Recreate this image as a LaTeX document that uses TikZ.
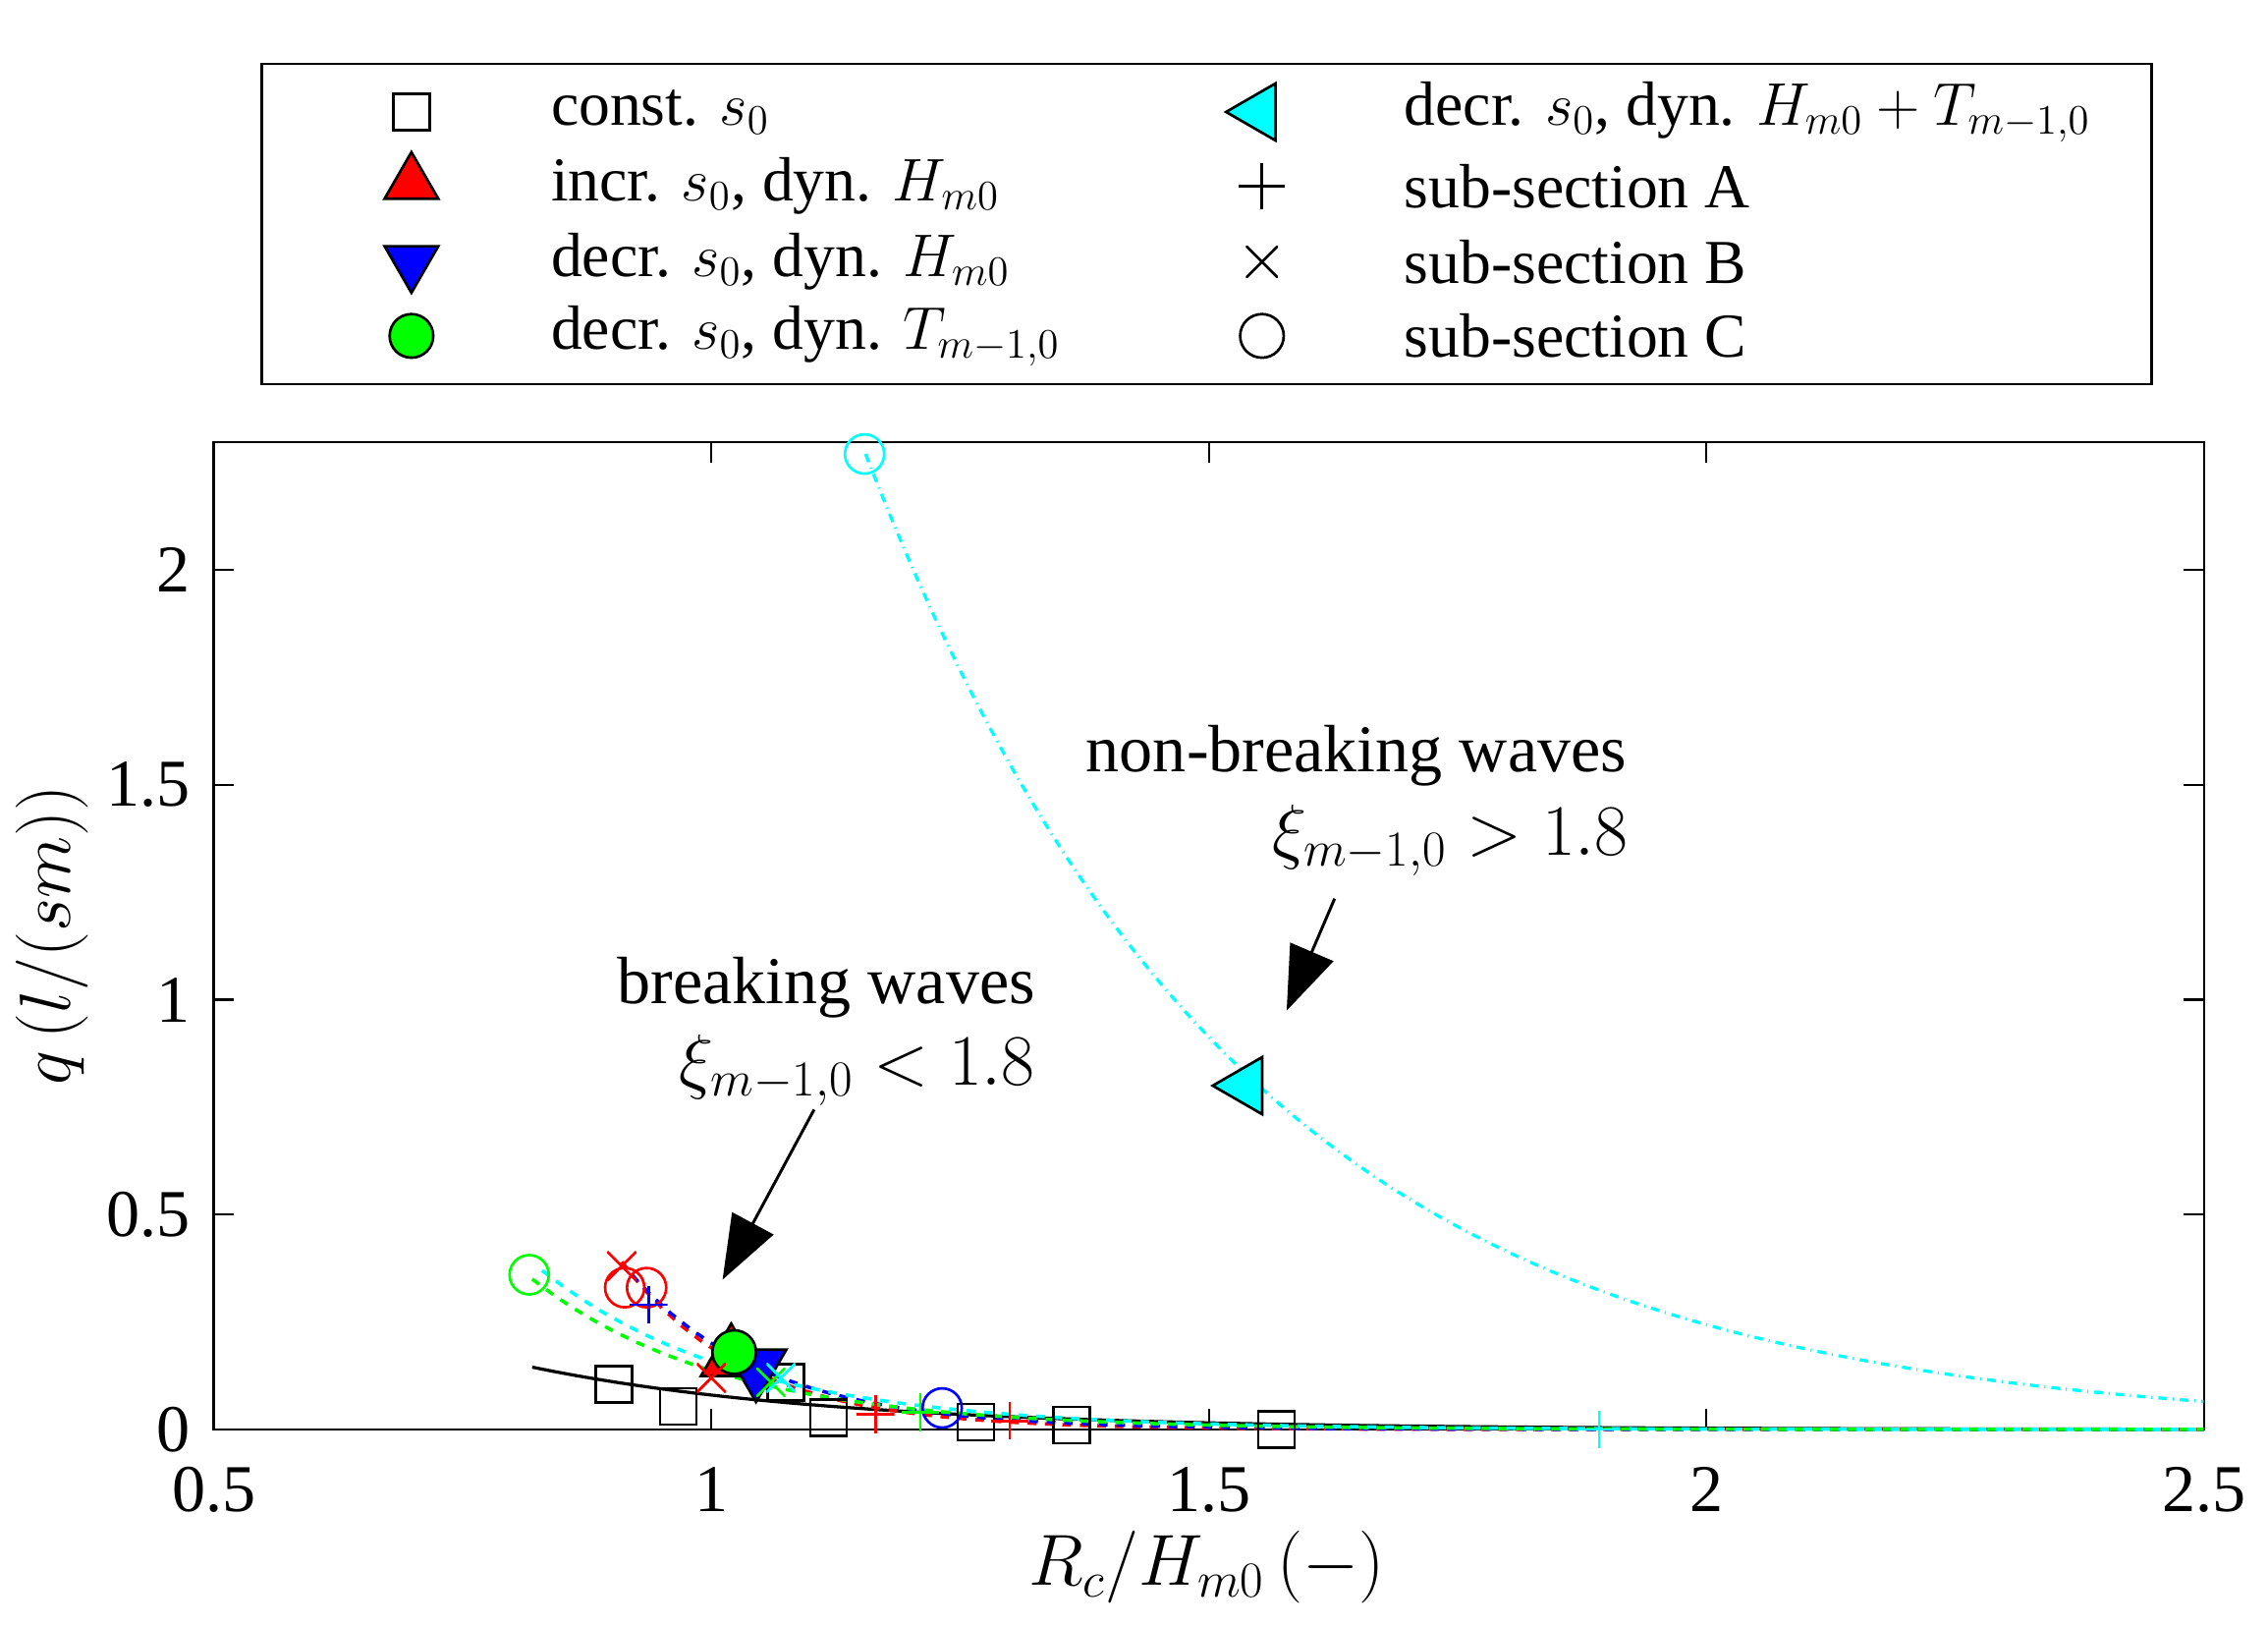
\documentclass[tikz,border=0pt]{standalone}
\usepackage{fontspec}
\setmainfont{Liberation Serif}
\usetikzlibrary{arrows.meta,shapes.geometric}
\definecolor{cyn}{rgb}{0,1,1}
\definecolor{grn}{rgb}{0,1,0}
\begin{document}
\begin{tikzpicture}[x=0.5pt,y=0.5pt,
  sq/.style={draw,rectangle,minimum size=12.5pt,inner sep=0pt,line width=0.8pt},
  tup/.style={draw,fill=red,isosceles triangle,shape border rotate=90,isosceles triangle apex angle=60,minimum height=18pt,inner sep=0pt,line width=0.9pt},
  tdn/.style={draw,fill=blue,isosceles triangle,shape border rotate=-90,isosceles triangle apex angle=60,minimum height=18pt,inner sep=0pt,line width=0.9pt},
  tlf/.style={draw,fill=cyn,isosceles triangle,shape border rotate=180,isosceles triangle apex angle=60,minimum height=17pt,inner sep=0pt,line width=0.9pt},
  gc/.style={draw,fill=grn,circle,minimum size=15pt,inner sep=0pt,line width=0.9pt},
  oc/.style={draw,circle,minimum size=13.5pt,inner sep=0pt,line width=0.9pt},
  pl/.style={inner sep=0pt,minimum size=13pt,path picture={\draw[line width=0.9pt] (path picture bounding box.north)--(path picture bounding box.south) (path picture bounding box.west)--(path picture bounding box.east);}},
  cr/.style={inner sep=0pt,minimum size=10pt,path picture={\draw[line width=0.9pt] (path picture bounding box.north west)--(path picture bounding box.south east) (path picture bounding box.south west)--(path picture bounding box.north east);}},
  lbl/.style={anchor=west,font=\fontsize{21.5}{24}\selectfont},
  big/.style={font=\fontsize{23}{27}\selectfont},
  ann/.style={-{Triangle[length=22pt,width=16pt]},line width=1pt}]
\useasboundingbox (0,0) rectangle (1560,1118);
% legend
\draw[line width=0.8pt] (180,854) rectangle (1480,1074);
\node[sq] (l1) at (283,1041) {};
\node[tup,minimum height=16pt] (l2) at (283,992) {};
\node[tdn,minimum height=16pt] (l3) at (283,938) {};
\node[gc] (l4) at (283,887) {};
\node[tlf,minimum height=17pt] (l5) at (866,1041) {};
\node[pl,minimum size=16pt] (l6) at (868,990) {};
\node[cr,minimum size=11pt] (l7) at (868,938) {};
\node[oc,minimum size=15pt] (l8) at (868,887) {};
\node[lbl] (t1) at (372,1041) {const. $s_0$};
\node[lbl] (t2) at (372,990) {incr. $s_0$, dyn. $H_{m0}$};
\node[lbl] (t3) at (372,938) {decr. $s_0$, dyn. $H_{m0}$};
\node[lbl] (t4) at (372,887) {decr. $s_0$, dyn. $T_{m-1,0}$};
\node[lbl] (t5) at (959,1041) {decr. $s_0$, dyn. $H_{m0}+T_{m-1,0}$};
\node[lbl] (t6) at (959,990) {sub-section A};
\node[lbl] (t7) at (959,938) {sub-section B};
\node[lbl] (t8) at (959,887) {sub-section C};
% axes
\draw[line width=0.8pt] (147,135) rectangle (1516,814);
\foreach \v/\p in {0.5/147,1/489.25,1.5/831.5,2/1173.75,2.5/1516}{
  \draw[line width=0.8pt] (\p,135)--++(0,14) (\p,814)--++(0,-14);
  \node[big,anchor=north] at (\p,116) {\v};}
\foreach \v/\p in {0/135,0.5/282.75,1/430.5,1.5/578.25,2/726}{
  \draw[line width=0.8pt] (147,\p)--++(14,0) (1516,\p)--++(-14,0);
  \node[big,anchor=east] at (138,\p) {\v};}
\node[big,rotate=90] (yl) at (36,475) {$q\,(l/(sm))$};
\node[big] (xl) at (830,40) {$R_c/H_{m0}\,(-)$};
% data
\begin{scope}[shift={(-97.625pt,67.5pt)},x=342.25pt,y=147.75pt]
\draw[black,line width=1.1pt] plot[domain=0.82:2.5,samples=80] (\x,{0.145*exp(-3.3*(\x-0.82))});
\draw[red,dashed,line width=1.2pt] plot[domain=0.91:2.5,samples=80] (\x,{0.39*exp(-8*(\x-0.91))});
\draw[blue,dashed,line width=1.2pt] plot[domain=0.92:2.5,samples=80] (\x,{0.36*exp(-7.3*(\x-0.92))});
\draw[grn,dashed,line width=1.2pt] plot[domain=0.82:2.5,samples=80] (\x,{0.35*exp(-5.2*(\x-0.82))});
\draw[cyn,dashed,line width=1.2pt] plot[domain=0.83:2.5,samples=80] (\x,{0.37*exp(-5*(\x-0.83))});
\draw[cyn,dash dot,line width=1.1pt] plot[domain=1.155:2.5,samples=100] (\x,{2.27*exp(-2.64*(\x-1.155))});
\foreach \a/\b [count=\i] in {0.902/0.105,0.967/0.054,1.118/0.027,1.266/0.017,1.362/0.01,1.568/0.0}
  \node[sq] (s\i) at (\a,\b) {};
\node[sq] (s7) at (1.075,0.11) {};
\node[tup] (m1) at (1.02,0.165) {};
\node[tdn] (m2) at (1.045,0.145) {};
\node[gc] (m3) at (1.023,0.18) {};
\node[tlf] (m4) at (1.537,0.80) {};
\node[oc,red] (c1) at (0.913,0.33) {};
\node[oc,red] (c2) at (0.935,0.33) {};
\node[oc,grn] (c3) at (0.817,0.36) {};
\node[oc,cyn] (c4) at (1.154,2.27) {};
\node[oc,blue] (c5) at (1.232,0.05) {};
\node[pl,blue] (p1) at (0.937,0.29) {};
\node[pl,red] (p2) at (1.165,0.035) {};
\node[pl,red] (p3) at (1.30,0.02) {};
\node[pl,grn] (p4) at (1.21,0.04) {};
\node[pl,cyn] (p5) at (1.892,0.0) {};
\node[cr,red] (x1) at (0.91,0.38) {};
\node[cr,red] (x2) at (1.0,0.12) {};
\node[cr,grn] (x3) at (1.06,0.11) {};
\node[cr,cyn] (x4) at (1.07,0.12) {};
\end{scope}
% annotations
\node[big,anchor=base] (nb) at (933,587) {non-breaking waves};
\node[big,anchor=base east] (nbx) at (1127,530) {$\xi_{m-1,0}>1.8$};
\coordinate (na1) at (918,500);
\coordinate (na2) at (885,423);
\draw[ann] (na1)--(na2);
\node[big,anchor=base east] (bw) at (719,428) {breaking waves};
\node[big,anchor=base east] (bwx) at (719,372) {$\xi_{m-1,0}<1.8$};
\coordinate (ba1) at (560,355);
\coordinate (ba2) at (497,238);
\draw[ann] (ba1)--(ba2);
\end{tikzpicture}
\end{document}
